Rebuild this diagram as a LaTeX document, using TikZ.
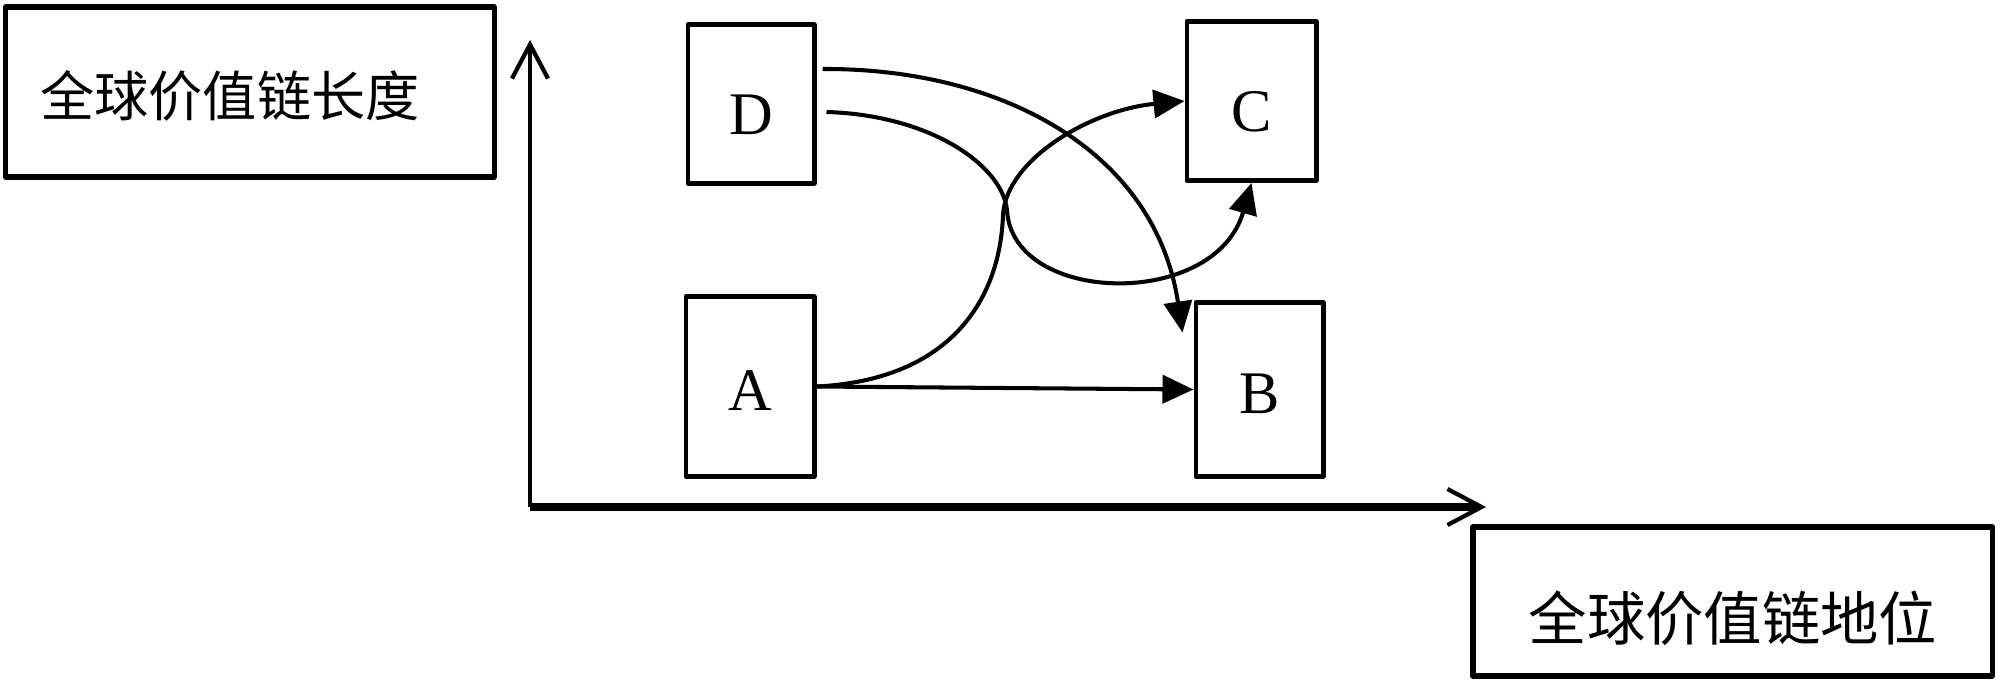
\documentclass[tikz,border=0pt]{standalone}
\usepackage{fontspec}
\newfontfamily\cjkfont{Noto Sans CJK SC}
\newfontfamily\letterfont{Liberation Serif}
\usetikzlibrary{arrows.meta,calc}
\begin{document}
\begin{tikzpicture}[x=0.01cm,y=-0.01cm,
  box/.style={draw,line width=1.4pt,line join=round,inner sep=0pt},
  letterbox/.style={box,font=\letterfont\fontsize{17.2}{19}\selectfont,text depth=0pt},
  highletter/.style={letterbox,text height=17.6pt},
  lowletter/.style={letterbox,text height=13.6pt},
  labelbox/.style={box,line width=1.5pt},
  cjklabel/.style={inner sep=0pt},
  conn/.style={line width=1.15pt,-{Triangle[length=3.1mm,width=2.8mm]}},
  axisline/.style={-{Straight Barb[length=3.4mm,width=3.6mm,line width=1.2pt]}}
]
\useasboundingbox (0,0) rectangle (2000,682);

% label boxes
\node[labelbox,minimum width=4.88cm,minimum height=1.70cm] (Lbox) at (250,92) {};
\node[cjklabel,font=\cjkfont\fontsize{15.4}{18}\selectfont] (Ltxt) at (230,96) {全球价值链长度};
\node[labelbox,minimum width=5.19cm,minimum height=1.49cm] (Rbox) at (1732.5,601.5) {};
\node[cjklabel,font=\cjkfont\fontsize{16.6}{19}\selectfont] (Rtxt) at (1733,618) {全球价值链地位};

% axes
\coordinate (O) at (530,507);
\coordinate (Ytop) at (530,40);
\coordinate (Xend) at (1486,507);
\draw[axisline,line width=1.2pt] (O) -- (Ytop);
\draw[axisline,line width=2pt] (O) -- (Xend);

% boxes
\node[highletter,minimum width=1.26cm,minimum height=1.58cm] (D) at (751,104) {D};
\node[highletter,minimum width=1.29cm,minimum height=1.59cm] (C) at (1251.5,101) {C};
\node[lowletter,minimum width=1.28cm,minimum height=1.79cm] (A) at (750,386.5) {A};
\node[lowletter,minimum width=1.27cm,minimum height=1.73cm] (B) at (1259.5,389.5) {B};

% connectors
\coordinate (d1) at ($(D.east)+(6,-35)$);
\coordinate (d2) at ($(D.east)+(10,8)$);
\coordinate (bEnd) at ($(B.north west)+(-11,32)$);

\draw[conn] (d1) .. controls (1000,68) and (1155,150) .. (bEnd);
\draw[conn] (d2) .. controls (930,115) and (1002,165) .. (1007,210)
               .. controls (1012,305) and (1215,310) .. (C.south);
\draw[conn] (A.east) .. controls (950,380) and (1000,300) .. (1003,215)
                     .. controls (1006,160) and (1090,110) .. (C.west);
\draw[conn] (A.east) -- (B.west);
\end{tikzpicture}
\end{document}
